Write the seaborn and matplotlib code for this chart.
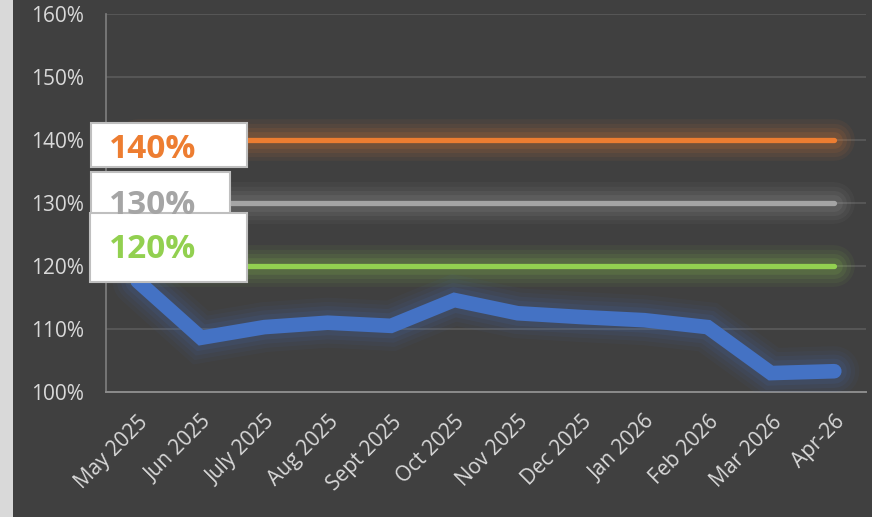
import numpy as np
import pandas as pd
import matplotlib
matplotlib.use("Agg")
import matplotlib.pyplot as plt
import seaborn as sns
from matplotlib.patches import Rectangle

months = ['May 2025', 'Jun 2025', 'July 2025', 'Aug 2025', 'Sept 2025', 'Oct 2025',
          'Nov 2025', 'Dec 2025', 'Jan 2026', 'Feb 2026', 'Mar 2026', 'Apr-26']
ratio = [117.6, 108.6, 110.3, 111.0, 110.5, 114.6,
         112.5, 111.9, 111.4, 110.3, 103.0, 103.3]
thresholds = [140, 130, 120]
threshold_labels = ['140%', '130%', '120%']
threshold_colors = ['#ED7D31', '#A5A5A5', '#92D050']
yticks = [100, 110, 120, 130, 140, 150, 160]

bg = '#404040'
txt = '#D9D9D9'

sns.set_theme(style='dark')
plt.rcParams['font.family'] = ['Open Sans', 'DejaVu Sans']

fig = plt.figure(figsize=(8.72, 5.17), dpi=100, facecolor=bg)
fig.patches.append(Rectangle((0, 0), 13 / 872, 1, transform=fig.transFigure,
                             facecolor='#D9D9D9', edgecolor='none', zorder=0))
ax = fig.add_axes([106 / 872, 1 - 392 / 517, 760 / 872, 378 / 517])
ax.set_facecolor(bg)

df = pd.DataFrame({'month': months, 'ratio': ratio})

# threshold lines with soft glow
for t, c in zip(thresholds, threshold_colors):
    level = [t] * len(months)
    for lw, a in [(30, 0.06), (24, 0.07), (18, 0.09), (12, 0.12)]:
        sns.lineplot(x=months, y=level, color=c, lw=lw, alpha=a, ax=ax,
                     solid_capstyle='round', zorder=2)
    sns.lineplot(x=months, y=level, color=c, lw=3.8, ax=ax,
                 solid_capstyle='round', zorder=3)

# main series with glow
for lw, a in [(36, 0.05), (30, 0.06), (24, 0.08), (18, 0.1)]:
    sns.lineplot(data=df, x='month', y='ratio', color='#4472C4', lw=lw, alpha=a,
                 ax=ax, solid_capstyle='round', solid_joinstyle='miter', zorder=4)
sns.lineplot(data=df, x='month', y='ratio', color='#4472C4', lw=10.5, ax=ax,
             solid_capstyle='round', solid_joinstyle='miter', zorder=5)

ax.set_xlim(-0.5, len(months) - 0.5)
ax.set_ylim(100, 160)
ax.set_yticks(yticks)
ax.set_yticklabels([f'{v}%' for v in yticks])
ax.set_xticks(range(len(months)))
ax.set_xticklabels(months, rotation=45, ha='right', rotation_mode='anchor')
ax.tick_params(axis='y', length=0, pad=16, labelsize=15, labelcolor=txt)
ax.tick_params(axis='x', length=0, pad=14, labelsize=15, labelcolor=txt)
ax.set_xlabel('')
ax.set_ylabel('')

ax.grid(axis='y', color='#595959', lw=1.3)
ax.grid(axis='x', visible=False)
for s in ['top', 'right']:
    ax.spines[s].set_visible(False)
ax.spines['left'].set_color('#7F7F7F')
ax.spines['left'].set_linewidth(1.2)
ax.spines['bottom'].set_color('#8C8C8C')
ax.spines['bottom'].set_linewidth(1.4)

# label boxes
boxes = [(91, 123, 156, 44, 149), (91, 172, 139, 43, 206), (90, 213, 157, 69, 250)]
for (x, y, w, h, ty), lab, c in zip(boxes, threshold_labels, threshold_colors):
    fig.patches.append(Rectangle((x / 872, 1 - (y + h) / 517), w / 872, h / 517,
                                 transform=fig.transFigure, facecolor='white',
                                 edgecolor='#BFBFBF', lw=1.5, zorder=10))
    fig.text(109 / 872, 1 - ty / 517, lab, color=c, fontsize=24, fontweight='bold',
             va='center', ha='left', zorder=11)

fig.savefig('out.png', dpi=100, facecolor=bg)
